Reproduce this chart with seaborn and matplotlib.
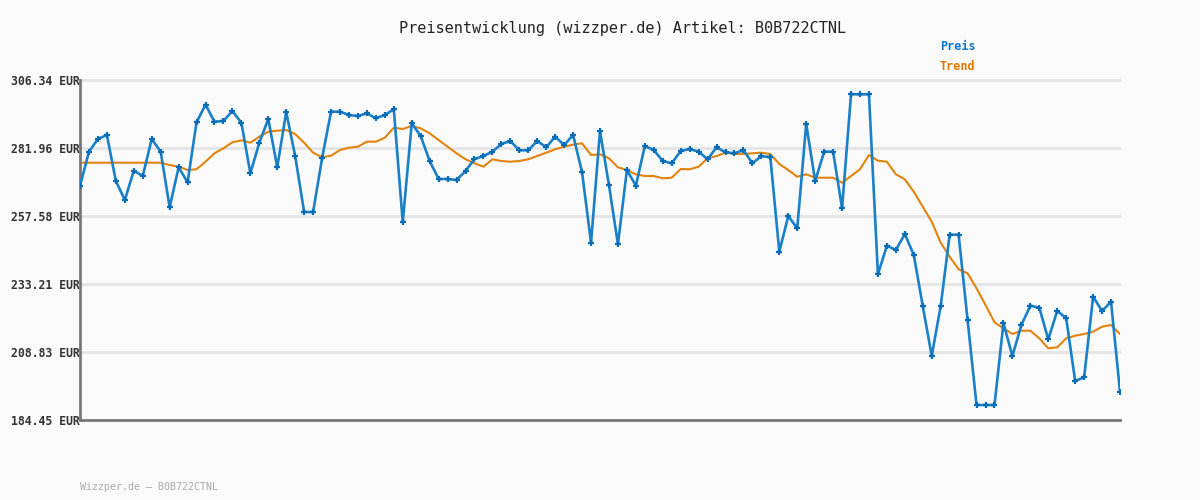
import numpy as np
import pandas as pd
import matplotlib
matplotlib.use("Agg")
import matplotlib.pyplot as plt
import seaborn as sns

title = "Preisentwicklung (wizzper.de) Artikel: B0B722CTNL"
footer = "Wizzper.de \u2013 B0B722CTNL"
y_ticks = [184.45, 208.83, 233.21, 257.58, 281.96, 306.34]
y_tick_labels = [f"{v:.2f} EUR" for v in y_ticks]

preis = [
    268.34, 280.64, 285.19, 286.62, 270.13, 263.32, 273.82, 271.92, 285.19, 280.64,
    260.70, 275.04, 269.67, 291.18, 297.49, 291.39, 291.64, 295.23, 291.03, 272.89,
    283.86, 292.36, 275.04, 294.87, 279.09, 259.02, 259.02, 278.27, 294.98, 294.98,
    293.79, 293.43, 294.40, 292.61, 293.79, 295.84, 255.33, 290.82, 286.26, 277.30,
    270.85, 270.85, 270.49, 273.72, 278.02, 279.09, 280.64, 283.40, 284.47, 281.14,
    281.14, 284.47, 282.21, 286.01, 283.04, 286.62, 273.25, 248.01, 288.06, 268.70,
    247.44, 274.07, 268.45, 282.68, 281.24, 277.30, 276.48, 280.89, 281.60, 280.64,
    277.91, 282.21, 280.42, 280.06, 281.24, 276.48, 279.09, 278.63, 244.79, 257.58,
    253.17, 290.57, 270.13, 280.64, 280.64, 260.34, 301.21, 301.21, 301.21, 236.68,
    246.94, 245.39, 251.13, 243.60, 225.32, 207.39, 225.32, 250.88, 250.88, 220.30,
    189.83, 189.83, 189.83, 219.12, 207.39, 218.51, 225.43, 224.71, 213.38, 223.63,
    220.91, 198.43, 199.76, 228.65, 223.53, 226.86, 194.60,
]

trend = [
    276.69, 276.69, 276.69, 276.69, 276.69, 276.69, 276.69, 276.69, 276.69, 276.69,
    275.87, 275.26, 274.07, 274.33, 277.05, 280.06, 281.85, 284.01, 284.72, 283.86,
    286.01, 287.81, 288.16, 288.41, 286.98, 283.86, 280.28, 278.63, 279.20, 281.24,
    282.07, 282.43, 284.22, 284.22, 285.65, 289.24, 288.77, 289.85, 289.02, 287.23,
    284.83, 282.43, 280.06, 277.91, 276.48, 275.26, 277.91, 277.30, 277.05, 277.30,
    277.91, 279.09, 280.28, 281.50, 282.43, 283.15, 283.65, 279.45, 279.70, 278.27,
    275.04, 274.07, 272.53, 271.92, 271.92, 271.10, 271.31, 274.43, 274.33, 275.26,
    278.27, 279.09, 280.28, 279.81, 279.81, 280.06, 280.28, 279.81, 276.23, 274.07,
    271.67, 272.53, 271.31, 271.31, 271.31, 269.52, 271.92, 274.33, 279.45, 277.41,
    277.05, 272.53, 270.74, 266.30, 260.92, 255.54, 248.01, 242.99, 238.48, 237.04,
    231.66, 225.68, 219.48, 217.32, 215.28, 216.46, 216.46, 213.74, 210.15, 210.51,
    213.74, 214.67, 215.28, 216.11, 217.90, 218.51, 215.28,
]

idx = list(range(len(preis)))
df = pd.DataFrame({"idx": idx, "Preis": preis, "Trend": trend})

sns.set_theme(style="white")
plt.rcParams["font.family"] = ["DejaVu Sans Mono", "DejaVu Sans"]

bg = "#fafafa"
fig = plt.figure(figsize=(12, 5), dpi=100, facecolor=bg)
ax = fig.add_axes([80 / 1200, 80 / 500, 1040 / 1200, 340 / 500])
ax.set_facecolor(bg)

for v in y_ticks[1:]:
    ax.axhline(v, color="#e4e4e4", lw=2, zorder=0, clip_on=False)

sns.lineplot(data=df, x="idx", y="Trend", ax=ax, color="#e3830f", lw=1.5, zorder=2)
sns.lineplot(data=df, x="idx", y="Preis", ax=ax, color="#1a80c8", lw=1.9, zorder=3,
             marker="+", markersize=4.5, markeredgewidth=1.6, markeredgecolor="#0a6cb5")

ax.set_xlim(0, len(preis) - 1)
ax.set_ylim(y_ticks[0], y_ticks[-1])
ax.set_xticks([])
ax.set_yticks(y_ticks)
ax.set_yticklabels(y_tick_labels, fontsize=8.3, fontweight="bold", color="#333333")
ax.tick_params(axis="y", length=0, pad=0)
ax.set_xlabel("")
ax.set_ylabel("")
for s in ["top", "right"]:
    ax.spines[s].set_visible(False)
for s in ["left", "bottom"]:
    ax.spines[s].set_color("#777777")
    ax.spines[s].set_linewidth(2)

fig.text(623 / 1200, 1 - 28 / 500, title, ha="center", va="center",
         fontsize=11, color="#222222")
fig.text(940 / 1200, 1 - 46 / 500, "Preis", ha="left", va="center",
         fontsize=8.5, fontweight="bold", color="#0a78c8")
fig.text(940 / 1200, 1 - 67 / 500, "Trend", ha="left", va="center",
         fontsize=8.5, fontweight="bold", color="#e07800")
fig.text(80 / 1200, 1 - 487 / 500, footer, ha="left", va="center",
         fontsize=7.2, color="#aaaaaa")

fig.savefig("out.png", dpi=100, facecolor=bg)
